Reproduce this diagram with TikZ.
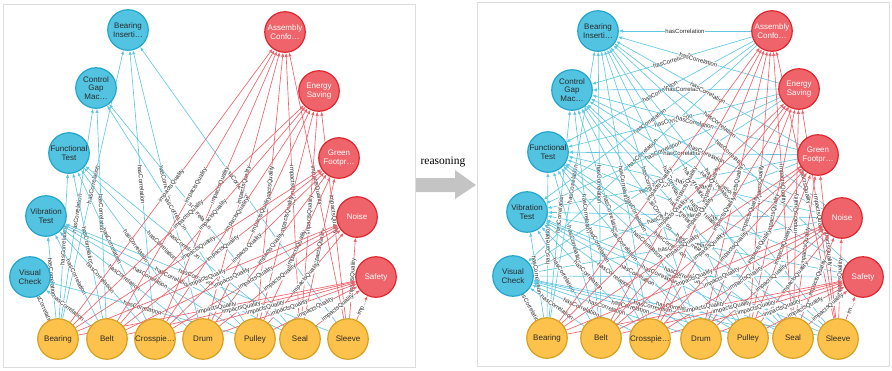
\documentclass[tikz,border=0pt]{standalone}
\usepackage{fontspec}
\setmainfont{Liberation Sans}
\newfontfamily\seriffont{Liberation Serif}
\usetikzlibrary{arrows.meta,backgrounds}
\definecolor{tblue}{HTML}{52C3E1}
\definecolor{tbluedark}{HTML}{22A6CD}
\definecolor{tred}{HTML}{EF646A}
\definecolor{treddark}{HTML}{E0262D}
\definecolor{torange}{HTML}{FDC24B}
\definecolor{torangedark}{HTML}{D6A01F}
\definecolor{eblue}{HTML}{62C8E2}
\definecolor{ered}{HTML}{F0626B}
\definecolor{ttext}{HTML}{2B2B2B}
\definecolor{framegray}{HTML}{DDDDDD}
\definecolor{arrowgray}{HTML}{C4C4C4}
\tikzset{
  basenode/.style={circle, minimum size=40.5pt, inner sep=0pt, line width=1.2pt, align=center, font=\fontsize{8}{8.6}\selectfont},
  tnode/.style={basenode, draw=tbluedark, fill=tblue, text=ttext},
  mnode/.style={basenode, draw=treddark, fill=tred, text=white},
  cnode/.style={basenode, draw=torangedark, fill=torange, text=ttext},
  hc/.style={draw=eblue, line width=0.65pt, -{Latex[length=4pt,width=3.4pt]}},
  iq/.style={draw=ered, line width=0.65pt, -{Latex[length=4pt,width=3.4pt]}},
  lab/.style={sloped, midway, font=\fontsize{6}{6.4}\selectfont, text=ttext, fill=white, inner sep=0.3pt},
  panelframe/.style={draw=framegray, line width=0.8pt},
}
\begin{document}
\begin{tikzpicture}[x=1pt,y=-1pt]
\useasboundingbox (0,0) rectangle (892,370);

% ---------------- left panel nodes ----------------
\node[tnode] (LBI) at (128,30) {Bearing\\Inserti…};
\node[tnode] (LCG) at (96,88) {Control\\Gap\\Mac…};
\node[tnode] (LFT) at (69,153) {Functional\\Test};
\node[tnode] (LVT) at (46,216) {Vibration\\Test};
\node[tnode] (LVC) at (30,277) {Visual\\Check};
\node[mnode] (LAC) at (285,32) {Assembly\\Confo…};
\node[mnode] (LES) at (319,91) {Energy\\Saving};
\node[mnode] (LGF) at (339,158) {Green\\Footpr…};
\node[mnode] (LNO) at (357,217) {Noise};
\node[mnode] (LSA) at (376,277) {Safety};
\node[cnode] (LBea) at (58,339) {Bearing};
\node[cnode] (LBel) at (107,339) {Belt};
\node[cnode] (LCro) at (155,339) {Crosspie…};
\node[cnode] (LDru) at (203,339) {Drum};
\node[cnode] (LPul) at (255,339) {Pulley};
\node[cnode] (LSea) at (300,339) {Seal};
\node[cnode] (LSle) at (348,339) {Sleeve};

% ---------------- right panel nodes ----------------
\node[tnode] (RBI) at (598,31) {Bearing\\Inserti…};
\node[tnode] (RCG) at (572,90) {Control\\Gap\\Mac…};
\node[tnode] (RFT) at (548,152) {Functional\\Test};
\node[tnode] (RVT) at (527,212) {Vibration\\Test};
\node[tnode] (RVC) at (513,276) {Visual\\Check};
\node[mnode] (RAC) at (772,31) {Assembly\\Confo…};
\node[mnode] (RES) at (799,89) {Energy\\Saving};
\node[mnode] (RGF) at (818,155) {Green\\Footpr…};
\node[mnode] (RNO) at (842,218) {Noise};
\node[mnode] (RSA) at (863,277) {Safety};
\node[cnode] (RBea) at (547,338) {Bearing};
\node[cnode] (RBel) at (601,338) {Belt};
\node[cnode] (RCro) at (650,339) {Crosspie…};
\node[cnode] (RDru) at (701,339) {Drum};
\node[cnode] (RPul) at (748,338) {Pulley};
\node[cnode] (RSea) at (793,338) {Seal};
\node[cnode] (RSle) at (838,339) {Sleeve};

% ---------------- middle arrow ----------------
\node[font=\seriffont\fontsize{11.5}{12}\selectfont, text=black] (reas) at (443,162) {reasoning};

\begin{scope}[on background layer]
  \draw[panelframe] (3,4) rectangle (415,367);
  \draw[panelframe] (477,2) rectangle (889,366);
  \fill[arrowgray] (416,178) -- (455,178) -- (455,170) -- (476,185) -- (455,199) -- (455,192) -- (416,192) -- cycle;

  % left panel: hasCorrelation
  \foreach \s/\t in {LBea/LBI, LCro/LBI, LDru/LBI, LSle/LBI,
                     LBea/LCG, LBel/LCG, LPul/LCG, LSea/LCG,
                     LBea/LFT, LBel/LFT, LCro/LFT, LDru/LFT, LPul/LFT, LSea/LFT,
                     LBea/LVT, LBel/LVT, LCro/LVT, LDru/LVT, LPul/LVT, LSea/LVT, LSle/LVT,
                     LBea/LVC, LBel/LVC, LPul/LVC}
    \draw[hc] (\s) -- node[lab] {hasCorrelation} (\t);
  % left panel: impactsQuality
  \foreach \s/\t in {LBea/LAC, LBel/LAC, LCro/LAC, LDru/LAC, LPul/LAC, LSea/LAC, LSle/LAC,
                     LBea/LES, LBel/LES, LCro/LES, LDru/LES, LPul/LES, LSea/LES, LSle/LES,
                     LBea/LGF, LBel/LGF, LCro/LGF, LDru/LGF, LPul/LGF, LSea/LGF,
                     LBea/LNO, LBel/LNO, LCro/LNO, LDru/LNO, LPul/LNO, LSle/LNO,
                     LBea/LSA, LBel/LSA, LCro/LSA, LDru/LSA, LPul/LSA, LSea/LSA}
    \draw[iq] (\s) -- node[lab] {impactsQuality} (\t);
  \draw[iq] (LSle) -- node[lab] {imp…} (LSA);

  % right panel: metric -> test hasCorrelation
  \foreach \s in {RAC, RES, RGF, RNO, RSA}
    \foreach \t in {RBI, RCG, RFT, RVT, RVC}
      \draw[hc] (\s) -- node[lab] {hasCorrelation} (\t);
  % right panel: component -> test hasCorrelation
  \foreach \s in {RBea, RBel, RCro, RDru, RPul, RSea, RSle}
    \foreach \t in {RBI, RCG, RFT, RVT, RVC}
      \draw[hc] (\s) -- node[lab] {hasCorrelation} (\t);
  % right panel: component -> metric impactsQuality
  \foreach \s/\t in {RBea/RAC, RBel/RAC, RCro/RAC, RDru/RAC, RPul/RAC, RSea/RAC, RSle/RAC,
                     RBea/RES, RBel/RES, RCro/RES, RDru/RES, RPul/RES, RSea/RES, RSle/RES,
                     RBea/RGF, RBel/RGF, RCro/RGF, RDru/RGF, RPul/RGF, RSea/RGF, RSle/RGF,
                     RBea/RNO, RBel/RNO, RCro/RNO, RDru/RNO, RPul/RNO, RSea/RNO, RSle/RNO,
                     RBea/RSA, RBel/RSA, RCro/RSA, RDru/RSA, RPul/RSA, RSea/RSA}
    \draw[iq] (\s) -- node[lab] {impactsQuality} (\t);
  \draw[iq] (RSle) -- node[lab] {im…} (RSA);
\end{scope}
\end{tikzpicture}
\end{document}
